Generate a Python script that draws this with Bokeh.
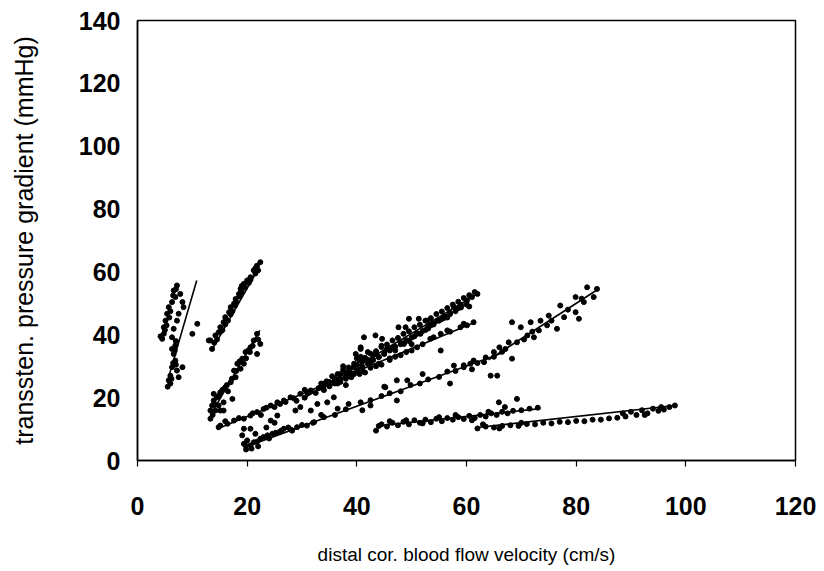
from bokeh.plotting import figure
from bokeh.models import Range1d, FixedTicker
from bokeh.embed import file_html
from bokeh.resources import INLINE

x_ticks = [0, 20, 40, 60, 80, 100, 120]
y_ticks = [0, 20, 40, 60, 80, 100, 120, 140]
x_title = "distal cor. blood flow velocity (cm/s)"
y_title = "transsten. pressure gradient (mmHg)"

# cluster A (very low velocity, steep)
a_x = [4.2, 4.5, 4.8, 4.8, 5.1, 5.4, 5.7, 6.3, 6.6, 6.9, 7.2, 6.6, 6.3, 6.9, 6.6, 6.9, 6.3, 7.2, 6.0, 5.7,
       8.2, 7.5, 7.5, 7.2, 8.2, 8.4, 6.3, 7.0, 5.5, 6.0, 7.8, 10.9, 10.0, 13.0,
       5.0, 5.3, 5.8, 6.0, 6.5, 7.0, 6.8, 7.0, 6.2, 6.5]
a_y = [39.5, 38.7, 40.3, 42.4, 44.5, 46.7, 48.8, 50.4, 54.1, 52.0, 55.7, 41.9, 39.2, 36.6, 33.9, 31.8, 29.7, 28.6, 27.0, 25.5,
       29.7, 26.5, 46.7, 44.5, 50.4, 48.8, 35.5, 38.0, 23.5, 24.5, 53.0, 43.5, 40.3, 38.2,
       41.5, 43.0, 45.5, 47.5, 52.5, 54.5, 35.0, 30.5, 26.0, 31.0]

# cluster B (upper steep)
b_x = [13.3, 14.2, 14.8, 15.1, 15.7, 16.0, 16.7, 17.0, 17.6, 17.9, 18.5, 18.8, 19.4, 20.0, 20.6, 21.2, 21.8, 22.4,
       16.5, 18.0, 19.0, 15.5, 17.3, 20.3, 14.0, 21.5, 13.6,
       14.5, 15.3, 16.2, 17.0, 17.8, 18.6, 19.6, 20.6, 21.5, 22.0, 16.0, 19.0]
b_y = [38.2, 39.8, 40.8, 42.4, 44.0, 45.6, 47.2, 48.8, 49.9, 51.4, 53.0, 54.6, 56.2, 57.3, 58.3, 60.5, 62.0, 63.1,
       44.5, 50.5, 53.5, 41.5, 47.5, 56.5, 37.5, 59.5, 35.5,
       38.5, 41.2, 44.8, 46.5, 49.3, 52.2, 55.0, 57.5, 61.2, 60.5, 43.3, 55.5]

# cluster C (middle steep)
c_x = [21.8, 22.4, 21.2, 20.6, 21.8, 19.7, 19.1, 18.2, 17.6, 17.9, 17.0, 16.0, 15.1, 14.5, 13.9, 13.6, 13.3, 14.2, 13.3, 15.7,
       17.3, 18.8, 19.4, 13.9, 15.1, 15.7, 20.2, 16.5, 14.8, 22.0,
       14.0, 14.8, 15.5, 16.3, 17.2, 18.0, 18.6, 19.8, 20.5, 21.0, 13.7]
c_y = [40.3, 37.1, 38.2, 36.0, 33.9, 34.5, 32.4, 30.8, 28.6, 26.5, 24.9, 23.3, 21.7, 20.1, 19.1, 17.5, 15.9, 15.9, 13.3, 15.9,
       19.6, 29.2, 30.8, 21.2, 15.9, 18.5, 35.0, 22.0, 17.5, 38.5,
       18.0, 20.5, 22.5, 24.0, 26.0, 28.5, 31.5, 32.5, 34.5, 36.5, 14.5]

# cluster D2 (long band 15-62)
d2_x = [14.8, 15.1, 16.4, 17.6, 19.4, 20.6, 21.8, 23.0, 24.3, 25.5, 26.7, 27.9, 29.7, 31.6, 33.4, 35.2, 36.4, 38.0, 39.5, 41.0,
        42.5, 44.0, 46.0, 48.0, 50.0, 53.4, 55.3, 56.5, 58.9, 60.1, 61.3, 16.0, 18.5, 21.0, 23.5, 26.0, 28.5, 31.0, 34.0, 37.0,
        22.5, 25.0, 27.0,
        30.5, 32.5, 34.5, 36.5, 38.5, 40.5, 42.5, 44.5, 47.0, 49.0, 51.0, 52.0, 54.0, 57.0, 59.5]
d2_y = [10.6, 11.1, 11.7, 12.7, 13.3, 14.3, 15.4, 16.4, 17.5, 18.5, 19.1, 20.1, 21.2, 22.3, 23.3, 24.4, 25.5, 26.0, 27.5, 28.5,
        29.5, 30.8, 32.0, 33.5, 35.0, 38.7, 40.3, 41.4, 42.4, 43.0, 44.0, 12.5, 13.5, 15.0, 16.8, 18.0, 19.8, 21.5, 23.8, 25.0,
        14.5, 17.0, 18.6,
        22.5, 21.5, 25.0, 24.5, 28.0, 27.5, 31.0, 30.5, 33.0, 34.5, 36.0, 37.0, 39.2, 41.0, 43.5]

# cluster D1 (dense band 29-62) with outliers
d1_x = [29.0, 30.5, 31.5, 33.0, 34.0, 35.0, 36.0, 36.4, 37.0, 38.0, 38.5, 39.4, 40.0, 40.5, 41.0, 42.0, 42.5, 43.0, 44.0, 45.0,
        45.5, 46.5, 47.0, 48.0, 48.6, 49.5, 50.5, 51.0, 51.6, 52.5, 53.0, 54.0, 54.7, 55.5, 56.0, 57.0, 57.7, 58.5, 59.0, 60.1,
        61.0, 62.0, 38.0, 39.0, 41.5, 43.5, 46.0, 50.0, 53.5, 56.5, 60.5, 37.5, 40.0, 42.0, 44.5,
        41.3, 43.4, 44.6, 40.7, 39.8, 47.6, 48.9, 49.5, 51.3, 52.8, 55.3, 47.3, 49.2, 45.2, 47.3, 42.5, 40.7, 40.7,
        33.5, 34.5, 35.5, 36.5, 37.5, 38.5, 39.5, 40.5, 41.5, 42.5, 43.5, 44.5, 45.5, 46.5, 47.5, 48.5, 49.5, 50.5,
        51.5, 52.5, 53.5, 54.5, 55.5, 56.5, 57.5, 58.5, 59.5, 60.5, 61.5,
        34.0, 35.0, 36.0, 37.0, 38.0, 39.0, 40.0, 41.0, 42.0, 43.0, 44.0, 45.0, 46.0, 47.0, 48.0, 49.0, 50.0, 51.0,
        52.0, 53.0, 54.0, 55.0, 56.0, 57.0, 58.0, 59.0, 60.0]
d1_y = [19.0, 20.0, 22.0, 23.0, 24.5, 25.0, 26.0, 25.5, 27.5, 28.0, 27.0, 29.7, 30.5, 29.0, 31.5, 32.0, 31.8, 33.5, 33.0, 33.9,
        35.5, 36.0, 35.0, 37.5, 37.1, 38.0, 39.5, 40.5, 40.3, 41.5, 42.0, 43.5, 44.5, 45.0, 46.0, 47.0, 48.8, 48.5, 49.5, 50.9,
        52.0, 53.0, 24.0, 26.5, 28.0, 30.0, 32.5, 37.0, 43.0, 45.5, 49.0, 30.0, 32.5, 34.5, 36.5,
        39.2, 39.8, 38.7, 35.5, 33.9, 42.4, 42.4, 45.1, 45.1, 44.5, 35.0, 25.5, 25.5, 23.3, 19.1, 17.5, 36.0, 33.0,
        24.5, 25.2, 26.8, 27.5, 28.9, 29.6, 30.8, 31.9, 32.7, 34.0, 34.8, 36.1, 36.9, 38.2, 39.0, 40.3, 41.1, 42.4,
        43.2, 44.5, 45.3, 46.6, 47.4, 48.5, 49.6, 50.5, 51.7, 52.6, 53.6,
        22.4, 23.6, 24.5, 25.7, 26.6, 27.8, 28.6, 29.9, 30.8, 32.0, 32.9, 34.1, 35.0, 36.2, 37.0, 38.3, 39.1, 40.3,
        41.2, 42.5, 43.3, 44.5, 45.4, 46.6, 47.5, 48.7, 49.6]

# cluster D3a (long shallow band 19-67)
d3a_x = [19.4, 20.0, 19.1, 19.4, 20.6, 21.2, 22.4, 23.7, 24.6, 25.8, 26.7, 20.6, 19.7, 28.0, 30.0, 32.0, 34.0, 36.0, 38.0, 40.7,
         42.5, 44.5, 46.0, 48.0, 49.8, 51.5, 53.0, 55.0, 56.5, 58.0, 59.5, 60.7, 62.0, 63.5, 65.0, 66.5, 45.0, 52.0, 41.0, 57.0,
         61.0, 24.3, 25.5, 28.8, 29.7, 31.6, 32.8, 34.6, 35.8, 32.2, 30.9, 28.2, 29.1, 33.5, 36.5, 38.5,
         57.7, 59.5, 61.3, 63.2, 64.4, 65.6,
         21.8, 23.0, 24.0, 25.2, 26.2, 27.5, 19.8, 20.8, 22.0, 21.5, 23.5, 25.0]
d3a_y = [5.3, 6.4, 8.0, 10.1, 10.1, 5.8, 6.9, 8.0, 8.5, 9.0, 10.1, 4.8, 4.8, 9.8, 11.3, 12.0, 13.8, 14.5, 16.3, 18.5,
         19.2, 20.5, 21.4, 22.0, 24.0, 24.5, 25.8, 26.6, 28.3, 28.5, 30.3, 30.8, 31.0, 32.8, 33.0, 34.6, 23.5, 27.5, 16.0, 24.5,
         29.0, 12.7, 14.3, 15.9, 17.0, 15.9, 18.0, 18.5, 20.1, 12.2, 11.1, 9.5, 10.6, 14.5, 16.5, 18.0,
         30.2, 29.7, 31.8, 31.3, 27.0, 27.0,
         6.0, 7.5, 7.0, 8.8, 9.5, 10.5, 3.5, 3.8, 4.5, 8.5, 10.5, 12.0]

# cluster D3b (steeper scattered band 65-84)
d3b_x = [65.0, 67.1, 68.3, 67.7, 69.2, 69.9, 71.1, 72.3, 73.2, 71.7, 75.0, 74.7, 76.5, 77.8, 77.1, 79.9, 79.9, 81.4, 82.0, 83.8,
         83.2, 68.3, 73.5, 80.5, 70.5, 75.5, 78.5, 81.0, 66.0, 72.0]
d3b_y = [34.5, 35.5, 32.4, 37.6, 37.6, 42.4, 39.8, 39.2, 41.4, 44.0, 46.1, 43.0, 41.9, 45.6, 49.3, 47.2, 52.0, 50.4, 55.1, 54.6,
         52.0, 44.0, 44.5, 45.1, 38.5, 44.5, 48.0, 51.5, 36.0, 41.0]

# cluster E (flat 43-73)
e_x = [43.5, 44.5, 45.5, 46.5, 47.5, 48.5, 49.5, 50.5, 51.5, 52.5, 53.5, 54.5, 55.5, 56.5, 57.5, 58.5, 59.5, 60.5, 61.5, 62.5,
       63.5, 64.5, 65.5, 66.5, 67.5, 68.5, 70.0, 71.5, 73.0, 44.0, 46.0, 49.0, 52.0, 55.0, 58.0, 61.0, 64.0, 65.9, 69.2, 67.0]
e_y = [9.5, 11.5, 10.8, 12.0, 11.2, 12.3, 11.5, 12.8, 12.0, 13.0, 12.2, 13.3, 12.5, 13.5, 13.0, 13.8, 13.2, 14.2, 13.5, 14.5,
       14.0, 15.0, 14.5, 15.5, 15.0, 15.8, 16.0, 16.5, 16.8, 11.0, 12.5, 12.8, 11.8, 13.8, 14.5, 12.8, 15.5, 18.5, 19.6, 17.0]

# cluster F (flat 62-98)
f_x = [62.0, 63.5, 65.0, 66.5, 68.0, 69.5, 71.0, 72.5, 74.0, 75.5, 77.0, 78.5, 80.0, 81.5, 83.0, 84.5, 86.0, 87.5, 89.0, 90.0,
       91.0, 92.0, 93.0, 94.0, 95.0, 96.0, 97.0, 98.0, 63.0, 66.0, 70.0, 88.5, 92.5, 95.5]
f_y = [10.2, 10.8, 10.5, 11.0, 11.2, 11.0, 11.6, 11.5, 12.0, 11.8, 12.3, 12.2, 12.6, 12.5, 13.0, 13.0, 13.4, 13.6, 14.0, 15.5,
       14.5, 16.0, 15.0, 16.5, 15.8, 16.2, 17.0, 17.5, 11.5, 10.2, 12.0, 15.0, 14.5, 17.0]

# regression lines (start x, start y, end x, end y)
fit_x0 = [5.5, 13.6, 14.0, 14.5, 30.0, 20.0, 64.0, 43.5, 62.0]
fit_y0 = [25.5, 35.3, 16.5, 10.0, 19.5, 4.5, 32.0, 11.0, 10.5]
fit_x1 = [10.8, 22.2, 22.3, 61.6, 62.0, 67.0, 84.0, 73.5, 98.0]
fit_y1 = [57.3, 61.5, 41.4, 44.0, 53.0, 34.5, 54.5, 16.5, 17.5]

p = figure(width=824, height=571, output_backend="svg", toolbar_location=None,
           x_range=Range1d(0, 120), y_range=Range1d(0, 140),
           min_border_left=137, min_border_right=29, min_border_top=20, min_border_bottom=111)
p.xgrid.visible = False
p.ygrid.visible = False
p.background_fill_color = "white"
p.border_fill_color = "white"
p.outline_line_color = "black"
p.outline_line_width = 1.5

all_x = a_x + b_x + c_x + d2_x + d1_x + d3a_x + d3b_x + e_x + f_x
all_y = a_y + b_y + c_y + d2_y + d1_y + d3a_y + d3b_y + e_y + f_y
p.scatter(all_x, all_y, size=5, color="black", marker="circle")
p.segment(fit_x0, fit_y0, fit_x1, fit_y1, line_color="black", line_width=1.6)

for ax in (p.xaxis, p.yaxis):
    ax.axis_line_color = "black"
    ax.axis_line_width = 1.5
    ax.minor_tick_line_color = None
    ax.major_label_text_font = "Liberation Sans"
    ax.major_label_text_font_style = "bold"
    ax.major_label_text_font_size = "25px"
    ax.major_label_text_color = "black"
    ax.axis_label_text_font = "Liberation Sans"
    ax.axis_label_text_font_style = "normal"
    ax.axis_label_text_color = "black"

p.xaxis.ticker = FixedTicker(ticks=x_ticks)
p.yaxis.ticker = FixedTicker(ticks=y_ticks)
p.xaxis.major_tick_out = 6
p.xaxis.major_tick_in = 0
p.xaxis.major_tick_line_width = 1.2
p.xaxis.major_label_standoff = 30
p.xaxis.axis_label = x_title
p.xaxis.axis_label_text_font_size = "19px"
p.xaxis.axis_label_standoff = 26

p.yaxis.major_tick_out = 0
p.yaxis.major_tick_in = 0
p.yaxis.major_label_standoff = 17
p.yaxis.axis_label = y_title
p.yaxis.axis_label_text_font_size = "25px"
p.yaxis.axis_label_standoff = 38

open("out.html", "w").write(file_html(p, INLINE))
